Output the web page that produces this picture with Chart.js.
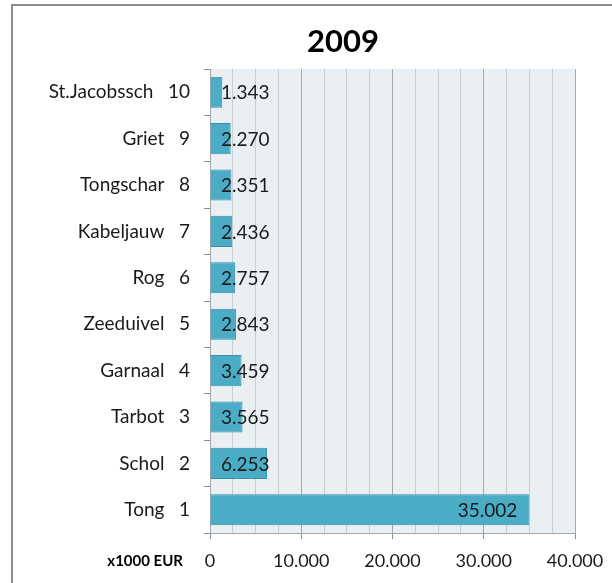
<!DOCTYPE html>
<html>
<head>
<meta charset="utf-8">
<script src="https://cdn.jsdelivr.net/npm/chart.js@4/dist/chart.umd.min.js"></script>
<style>
  html, body { margin: 0; padding: 0; background: #fff; overflow: hidden; width: 612px; height: 583px; }
  #wrap { position: absolute; left: 0; top: 0; width: 612px; height: 583px; overflow: hidden; }
  canvas { display: block; }
</style>
</head>
<body>
<div id="wrap"><canvas id="c" width="612" height="583"></canvas></div>
<script>
// ---- data (rank 1 at bottom, rank 10 at top) ----
const species = ['Tong', 'Schol', 'Tarbot', 'Garnaal', 'Zeeduivel', 'Rog', 'Kabeljauw', 'Tongschar', 'Griet', 'St.Jacobssch'];
const ranks = [1, 2, 3, 4, 5, 6, 7, 8, 9, 10];
const values = [35002, 6253, 3565, 3459, 2843, 2757, 2436, 2351, 2270, 1343];
const chartTitle = '2009';
const unitLabel = 'x1000 EUR';
const xTickValues = [0, 10000, 20000, 30000, 40000];

const categoryLabels = species.map((s, i) => s + '   ' + ranks[i]);
const fmt = v => String(v).replace(/\B(?=(\d{3})+(?!\d))/g, '.');

const FONT = 'Lato, "Open Sans", sans-serif';

const framePlugin = {
  id: 'frame',
  beforeDraw(chart) {
    const { ctx, chartArea: a } = chart;
    ctx.save();
    ctx.fillStyle = '#8C8C8C';
    ctx.fillRect(11, 4, 2, 583);
    ctx.fillRect(11, 4, 700, 2);
    ctx.fillStyle = '#E9EFF3';
    ctx.fillRect(a.left, a.top, a.right - a.left, a.bottom - a.top);
    ctx.restore();
  },
  afterDraw(chart) {
    const { ctx, chartArea: a } = chart;
    ctx.save();
    ctx.fillStyle = '#000';
    ctx.textAlign = 'center';
    ctx.textBaseline = 'middle';
    ctx.font = 'bold 31px ' + FONT;
    ctx.fillText(chartTitle, 343, 42);
    ctx.font = 'bold 15px ' + FONT;
    ctx.textAlign = 'right';
    ctx.fillText(unitLabel, 183, a.bottom + 28);
    ctx.restore();
  }
};

const labelPlugin = {
  id: 'barLabels',
  afterDatasetsDraw(chart) {
    const { ctx, chartArea: a } = chart;
    const meta = chart.getDatasetMeta(0);
    ctx.save();
    ctx.font = '19px ' + FONT;
    ctx.fillStyle = '#1A1A1A';
    ctx.textBaseline = 'middle';
    ctx.textAlign = 'left';
    meta.data.forEach((bar, i) => {
      const txt = fmt(chart.data.datasets[0].data[i]);
      const w = ctx.measureText(txt).width;
      const left = Math.max(a.left + 11, bar.x - 12 - w);
      ctx.fillText(txt, left, bar.y + 1);
    });
    ctx.restore();
  }
};

new Chart(document.getElementById('c'), {
  type: 'bar',
  data: {
    labels: categoryLabels,
    datasets: [{
      data: values,
      backgroundColor: '#4BACC6',
      borderColor: '#3A90A8',
      borderWidth: 1,
      categoryPercentage: 1,
      barPercentage: 0.67
    }]
  },
  options: {
    indexAxis: 'y',
    responsive: false,
    animation: false,
    devicePixelRatio: 1,
    layout: { padding: { left: 0, right: 37, top: 69, bottom: 0 } },
    plugins: {
      legend: { display: false },
      tooltip: { enabled: false },
      title: { display: false }
    },
    scales: {
      x: {
        type: 'linear',
        min: 0,
        max: 40000,
        afterFit(s) { s.height = 50; s.paddingLeft = 0; s.paddingRight = 0; },
        afterBuildTicks(s) {
          const t = [];
          for (let v = 0; v <= 40000; v += 2500) t.push({ value: v });
          s.ticks = t;
        },
        ticks: {
          autoSkip: false,
          maxRotation: 0,
          padding: 11,
          color: '#1A1A1A',
          font: { family: FONT, size: 18 },
          callback: v => (xTickValues.includes(v) ? fmt(v) : '')
        },
        grid: {
          color: c => (c.tick && c.tick.value % 10000 === 0 ? '#A6A6A6' : '#C9CED2'),
          tickColor: c => (c.tick && c.tick.value % 10000 === 0 ? '#8C8C8C' : 'rgba(0,0,0,0)'),
          tickLength: 6,
          lineWidth: 1
        },
        border: { display: true, color: '#A6A6A6', width: 1 }
      },
      y: {
        type: 'category',
        reverse: true,
        offset: true,
        afterFit(s) { s.width = 210; },
        ticks: {
          padding: 14,
          color: '#1A1A1A',
          font: { family: FONT, size: 19 }
        },
        grid: {
          offset: true,
          drawOnChartArea: false,
          tickLength: 6,
          tickColor: '#8C8C8C'
        },
        border: { display: true, color: '#A6A6A6', width: 1 }
      }
    }
  },
  plugins: [framePlugin, labelPlugin]
});
</script>
</body>
</html>
